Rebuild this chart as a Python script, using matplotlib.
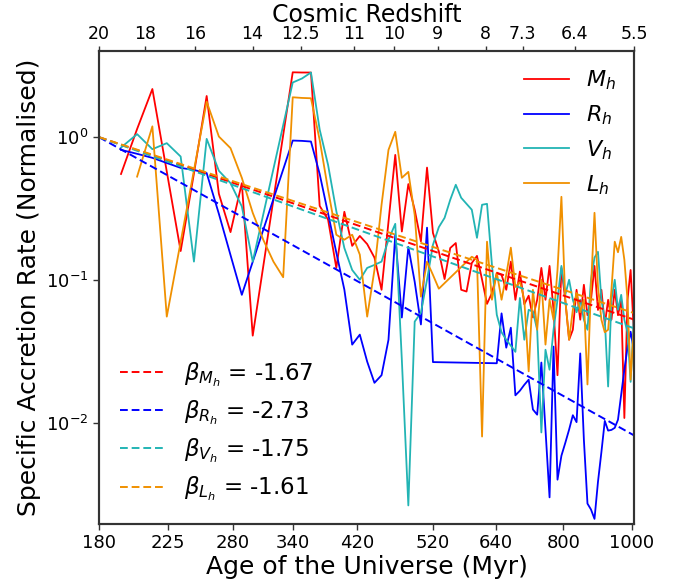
import numpy as np
import matplotlib
matplotlib.use("Agg")
import matplotlib.pyplot as plt
from matplotlib.ticker import NullLocator, NullFormatter

nan = np.nan

# snapshot ages of the universe (Myr)
snap_age = [193.4, 203.9, 214.4, 224.8, 235.3, 245.8, 256.3, 266.8, 277.2, 287.7,
            298.2, 308.7, 319.2, 329.6, 340.1, 350.6, 361.1, 371.6, 382.0, 392.5,
            403.0, 413.5, 424.0, 434.4, 444.9, 455.4, 465.9, 476.4, 486.8, 497.3,
            507.8, 518.3, 528.8, 539.2, 549.7, 560.2, 570.7, 581.2, 591.6, 602.1,
            612.6, 623.1, 633.6, 644.0, 654.5, 665.0, 675.5, 686.0, 696.4, 706.9,
            717.4, 727.9, 738.4, 748.8, 759.3, 769.8, 780.3, 790.8, 801.2, 811.7,
            822.2, 832.7, 843.2, 853.6, 864.1, 874.6, 885.1, 895.6, 906.0, 916.5,
            927.0, 937.5, 948.0, 958.4, 968.9, 979.4, 989.9, 1000.4, 1010.8, 1021.3,
            1031.8, 1042.3]

# normalised specific accretion rates (nan = no data at that snapshot)
rate_M = [0.553, 1.14, 2.17, 0.575, 0.160, 0.558, 1.94, 0.402, 0.217, 0.477,
          0.041, nan, nan, nan, 2.84, 2.83, 2.83, 0.331, 0.265, 0.122,
          0.301, 0.174, 0.204, 0.179, 0.144, 0.0858, 0.256, 0.752, 0.219, 0.470,
          0.311, 0.187, 0.613, 0.214, 0.159, 0.102, 0.168, 0.182, 0.0858, 0.0834,
          0.132, 0.148, 0.101, 0.0684, 0.0815, 0.112, 0.109, 0.0858, 0.135, 0.073,
          0.115, 0.068, 0.078, 0.055, 0.073, 0.122, 0.073, 0.126, 0.062, 0.0217,
          0.122, 0.073, 0.0384, 0.0451, 0.0858, 0.053, 0.093, 0.057, 0.073, 0.126,
          0.062, 0.0858, 0.049, 0.073, 0.053, 0.0858, 0.057, 0.073, 0.0109, 0.073,
          0.118, 0.0451]

rate_R = [0.815, 0.765, 0.717, 0.66, 0.61, 0.59, 0.561, 0.291, 0.150, 0.0791,
          nan, nan, nan, nan, 0.947, 0.942, 0.932, 0.553, 0.293, 0.156,
          0.086, 0.0355, 0.0417, 0.027, 0.0192, 0.0217, 0.0384, 0.208, 0.0549, 0.171,
          0.0976, 0.0491, 0.233, 0.0268, nan, nan, nan, nan, nan, nan,
          nan, nan, nan, nan, nan, 0.0263, 0.0587, 0.0338, 0.0466, 0.0157,
          0.0169, 0.0186, 0.0202, 0.0125, 0.0115, 0.0266, 0.00904, 0.00304, 0.0344, 0.00404,
          0.00594, 0.0073, 0.00904, 0.0114, 0.0102, 0.0308, 0.0077, 0.00275, 0.0025, 0.00215,
          0.0039, 0.0063, 0.0104, 0.0089, 0.009, 0.0093, 0.0106, 0.0159, 0.0237, 0.0338,
          0.0437, 0.0327]

rate_V = [0.846, 1.05, 0.824, 0.908, 0.732, 0.135, 0.973, 0.582, 0.477, 0.328,
          0.135, nan, nan, nan, 2.41, 2.57, 2.83, 1.13, 0.64, 0.304,
          0.168, 0.118, 0.1008, 0.122, 0.128, 0.135, 0.192, 0.248, 0.0278, 0.00267,
          0.0514, 0.0593, 0.1008, 0.177, 0.235, 0.273, 0.365, 0.465, 0.377, 0.342,
          0.311, 0.198, 0.337, 0.342, 0.128, 0.0574, 0.0433, 0.0384, 0.0349, 0.0316,
          0.0752, 0.0384, 0.0622, 0.0603, 0.0451, 0.00864, 0.0327, 0.0237, 0.0451, 0.0731,
          0.126, 0.0791, 0.1008, 0.0731, 0.0598, 0.0731, 0.053, 0.0451, 0.1008, 0.144,
          0.158, 0.0731, 0.053, 0.0181, 0.0731, 0.1008, 0.0622, 0.0791, 0.053, 0.0433,
          0.0195, 0.053]

rate_L = [nan, 0.530, 1.19, 0.0557, nan, nan, 1.77, 1.01, 0.838, 0.52,
          0.296, 0.192, 0.135, 0.105, 1.90, 1.88, 1.87, 0.957, 0.428, 0.208,
          0.192, 0.208, 0.151, 0.0557, 0.118, 0.337, 0.815, 1.09, 0.52, 0.572,
          0.286, 0.0768, 0.135, 0.109, 0.0873, nan, nan, nan, nan, nan,
          0.146, 0.139, 0.00809, 0.186, 0.0731, 0.113, 0.0731, 0.109, 0.169, 0.0898,
          0.0975, 0.0731, 0.0231, 0.0858, 0.0451, 0.1008, 0.0355, 0.0731, 0.053, 0.118,
          0.383, 0.0731, 0.0384, 0.0622, 0.0815, 0.0598, 0.0731, 0.0187, 0.0898, 0.296,
          0.0898, 0.053, 0.0433, 0.0451, 0.0858, 0.186, 0.157, 0.201, 0.139, 0.0731,
          0.0202, 0.0451]

series_labels = [r"$M_h$", r"$R_h$", r"$V_h$", r"$L_h$"]
fit_labels = [r"$\beta_{M_h}$", r"$\beta_{R_h}$", r"$\beta_{V_h}$", r"$\beta_{L_h}$"]
betas = [-1.67, -2.73, -1.75, -1.61]
colours = ["#ff0000", "#0000ff", "#22b4b4", "#f09000"]

# bottom axis: age labels and the redshifts they sit at
age_tick_labels = ["180", "225", "280", "340", "420", "520", "640", "800", "1000"]
age_tick_z = [20.0, 17.07, 14.65, 12.74, 10.93, 9.11, 7.80, 6.59, 5.53]
# top axis: redshift ticks
z_ticks = [20, 18, 16, 14, 12.5, 11, 10, 9, 8, 7.3, 6.4, 5.5]
z_tick_labels = ["20", "18", "16", "14", "12.5", "11", "10", "9", "8", "7.3", "6.4", "5.5"]
z_start, z_end = 20.0, 5.5

# flat LCDM (Planck 2015)
H0, Om = 67.74, 0.3089
OL = 1.0 - Om
t_hubble = 977.79 / H0 * 1000.0
A = 2.0 * t_hubble / (3.0 * np.sqrt(OL))
B = np.sqrt(OL / Om)


def age_to_z(t):
    return (np.sinh(np.asarray(t) / A) / B) ** (-2.0 / 3.0) - 1.0


def z_to_age(z):
    return A * np.arcsinh(B * (1.0 + np.asarray(z)) ** -1.5)


def main():
    fig = plt.figure(figsize=(6.75, 5.83), dpi=100)
    ax = fig.add_axes([0.1467, 0.1012, 0.7926, 0.8113])

    opz = 1.0 + age_to_z(snap_age)
    handles = []
    for vals, col, lab in zip([rate_M, rate_R, rate_V, rate_L], colours, series_labels):
        v = np.array(vals)
        m = np.isfinite(v)
        ln, = ax.plot(opz[m], v[m], color=col, lw=1.3, label=lab)
        handles.append(ln)

    z_fit = np.array([z_start, z_end])
    t_fit = z_to_age(z_fit)
    fit_handles = []
    for b, col, lab in zip(betas, colours, fit_labels):
        ln, = ax.plot(1.0 + z_fit, (t_fit / t_fit[0]) ** b, color=col, lw=1.4,
                      ls=(0, (4.0, 2.0)), label=f"{lab} = {b:.2f}")
        fit_handles.append(ln)

    ax.set_xscale("log")
    ax.set_yscale("log")
    ax.set_xlim(1.0 + z_start, 1.0 + z_end)
    ax.set_ylim(1.98e-3, 4.0)

    ax.xaxis.set_minor_locator(NullLocator())
    ax.xaxis.set_minor_formatter(NullFormatter())
    ax.yaxis.set_minor_locator(NullLocator())
    ax.set_xticks(1.0 + np.array(age_tick_z))
    ax.set_xticklabels(age_tick_labels)
    ax.tick_params(labelsize=13, length=4, width=1, pad=3.5, color="#333333")
    ax.set_xlabel("Age of the Universe (Myr)", fontsize=18, labelpad=2)
    ax.set_ylabel("Specific Accretion Rate (Normalised)", fontsize=18, labelpad=4)

    top = ax.twiny()
    top.set_xscale("log")
    top.set_xlim(ax.get_xlim())
    top.xaxis.set_minor_locator(NullLocator())
    top.xaxis.set_minor_formatter(NullFormatter())
    top.set_xticks(1.0 + np.array(z_ticks))
    top.set_xticklabels(z_tick_labels)
    top.tick_params(labelsize=12.5, length=3.5, width=1, pad=2.0, color="#333333")
    top.set_xlabel("Cosmic Redshift", fontsize=17, labelpad=2.5)

    for a in (ax, top):
        for s in a.spines.values():
            s.set_color("#333333")
            s.set_linewidth(1.5)

    leg1 = ax.legend(handles=handles, loc="upper right", frameon=False, fontsize=16,
                     borderaxespad=0.4)
    ax.add_artist(leg1)
    ax.legend(handles=fit_handles, loc="lower left", frameon=False, fontsize=16.5,
              labelspacing=0.42)

    fig.savefig("out.png", dpi=100)


if __name__ == "__main__":
    main()
